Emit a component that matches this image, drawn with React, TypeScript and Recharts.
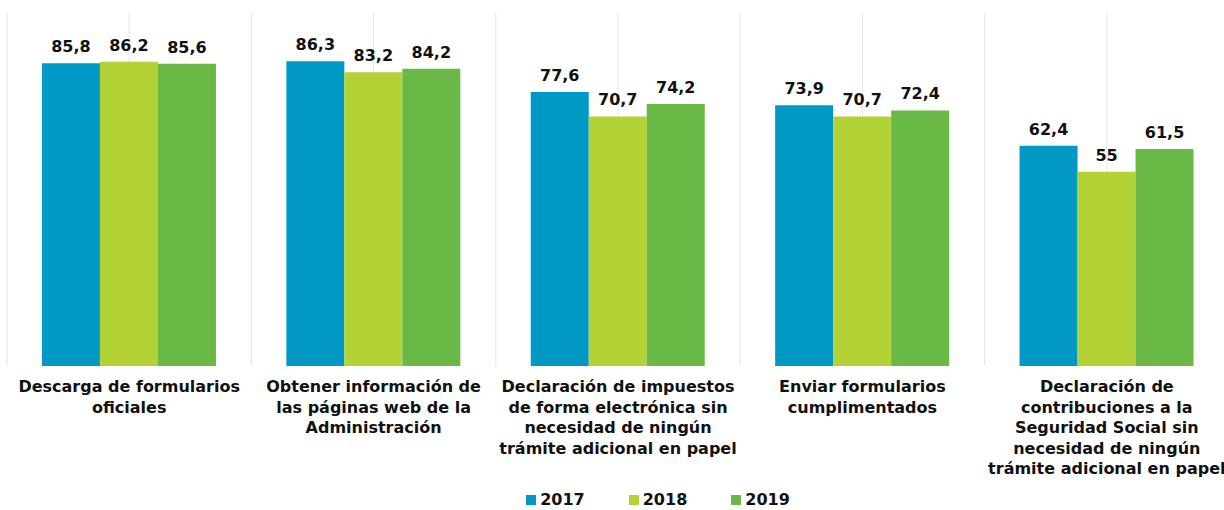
import { BarChart, Bar, XAxis, YAxis, CartesianGrid, Legend, LabelList } from "recharts"

const categories = [
  "Descarga de formularios\noficiales",
  "Obtener información de\nlas páginas web de la\nAdministración",
  "Declaración de impuestos\nde forma electrónica sin\nnecesidad de ningún\ntrámite adicional en papel",
  "Enviar formularios\ncumplimentados",
  "Declaración de\ncontribuciones a la\nSeguridad Social sin\nnecesidad de ningún\ntrámite adicional en papel",
]
const values2017 = [85.8, 86.3, 77.6, 73.9, 62.4]
const values2018 = [86.2, 83.2, 70.7, 70.7, 55]
const values2019 = [85.6, 84.2, 74.2, 72.4, 61.5]
const series = [
  { key: "y2017", name: "2017", color: "#0099C6" },
  { key: "y2018", name: "2018", color: "#B3D236" },
  { key: "y2019", name: "2019", color: "#6AB946" },
]

const data = categories.map((c, i) => ({
  category: c,
  y2017: values2017[i],
  y2018: values2018[i],
  y2019: values2019[i],
}))

const FONT = "'DejaVu Sans', Verdana, sans-serif"
const fmt = (v: number) => String(v).replace(".", ",")

function CategoryTick({ x, y, payload }: { x?: number; y?: number; payload?: { value: string } }) {
  const lines = (payload?.value ?? "").split("\n")
  return (
    <text x={x} y={(y ?? 0) + 18} textAnchor="middle" fontFamily={FONT} fontWeight="bold" fontSize={16} fill="#111">
      {lines.map((l, i) => (
        <tspan key={i} x={x} dy={i === 0 ? 0 : 20.5}>
          {l}
        </tspan>
      ))}
    </text>
  )
}

function LegendContent() {
  return (
    <div style={{ height: 34, display: "flex", justifyContent: "center", alignItems: "flex-end", gap: 44, fontFamily: FONT, fontWeight: "bold", fontSize: 16, lineHeight: "12px", color: "#111", paddingLeft: 80, boxSizing: "border-box" }}>
      {series.map((s) => (
        <div key={s.key} style={{ display: "flex", alignItems: "center", gap: 4, marginBottom: 4 }}>
          <span style={{ width: 10, height: 10, background: s.color, display: "inline-block" }} />
          <span>{s.name}</span>
        </div>
      ))}
    </div>
  )
}

export default function App() {
  return (
    <div style={{ position: "absolute", left: 0, top: 0, width: 1224, height: 510, overflow: "hidden", background: "#fff" }}>
      <BarChart width={1240} height={510} data={data} margin={{ top: 13, right: 11, left: 7, bottom: 0 }} barCategoryGap="14.3%" barGap={0}>
        <CartesianGrid
          horizontal={false}
          stroke="#e4e4e4"
          verticalCoordinatesGenerator={({ offset }: any) =>
            Array.from({ length: 11 }, (_, i) => offset.left + (i * offset.width) / 10)
          }
        />
        <XAxis dataKey="category" axisLine={false} tickLine={false} interval={0} height={110} tick={<CategoryTick />} />
        <YAxis hide domain={[0, 100]} />
        <Legend verticalAlign="bottom" content={<LegendContent />} />
        {series.map((s) => (
          <Bar key={s.key} dataKey={s.key} name={s.name} fill={s.color} isAnimationActive={false}>
            <LabelList dataKey={s.key} position="top" offset={11} formatter={(v: any) => fmt(v)} fontFamily={FONT} fontWeight="bold" fontSize={16} fill="#111" />
          </Bar>
        ))}
      </BarChart>
    </div>
  )
}
